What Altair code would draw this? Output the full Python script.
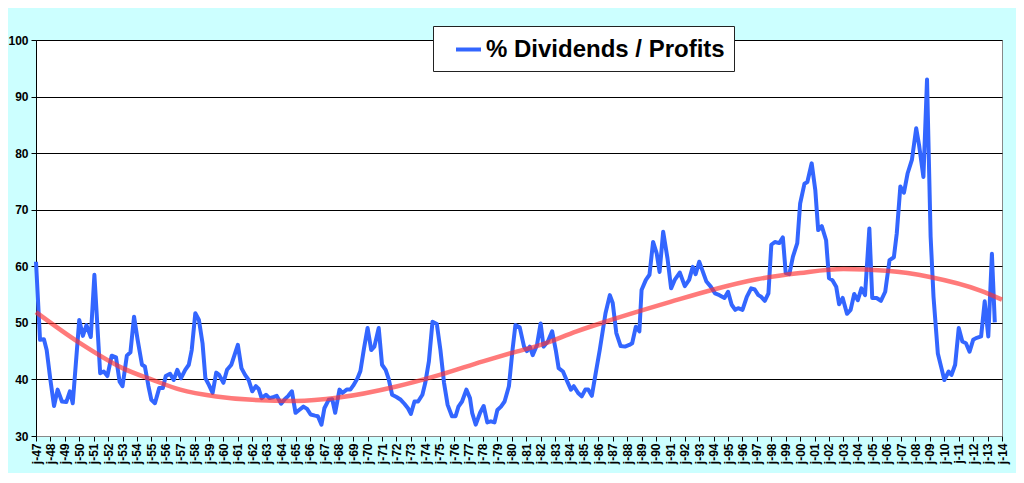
import altair as alt
import pandas as pd

SERIES = "% Dividends / Profits"

years = [
    1947.0, 1947.28, 1947.55, 1947.74, 1948.0, 1948.25, 1948.5, 1948.8, 1949.1, 1949.35,
    1949.55, 1950.0, 1950.25, 1950.5, 1950.8, 1951.05, 1951.45, 1951.7, 1951.95, 1952.25,
    1952.55, 1952.8, 1953.0, 1953.3, 1953.55, 1953.8, 1954.05, 1954.35, 1954.55, 1954.8,
    1955.0, 1955.25, 1955.55, 1955.8, 1956.0, 1956.3, 1956.55, 1956.8, 1957.05, 1957.35,
    1957.6, 1957.8, 1958.05, 1958.3, 1958.55, 1958.75, 1959.0, 1959.25, 1959.5, 1959.7,
    1960.0, 1960.25, 1960.55, 1961.0, 1961.25, 1961.5, 1961.75, 1962.0, 1962.25, 1962.45,
    1962.65, 1962.95, 1963.2, 1963.5, 1963.7, 1964.0, 1964.25, 1964.5, 1964.75, 1965.0,
    1965.25, 1965.55, 1965.8, 1966.05, 1966.35, 1966.55, 1966.8, 1967.0, 1967.3, 1967.55,
    1967.75, 1968.05, 1968.25, 1968.55, 1968.8, 1969.0, 1969.3, 1969.5, 1969.75, 1970.0,
    1970.25, 1970.47, 1970.77, 1971.0, 1971.25, 1971.45, 1971.7, 1972.0, 1972.3, 1972.55,
    1972.8, 1973.0, 1973.25, 1973.5, 1973.8, 1974.0, 1974.25, 1974.5, 1974.8, 1975.05,
    1975.3, 1975.55, 1975.85, 1976.1, 1976.3, 1976.55, 1976.85, 1977.1, 1977.25, 1977.5,
    1977.8, 1978.05, 1978.3, 1978.55, 1978.8, 1979.0, 1979.25, 1979.5, 1979.8, 1980.05,
    1980.25, 1980.55, 1980.85, 1981.05, 1981.25, 1981.45, 1981.75, 1982.0, 1982.2, 1982.5,
    1982.8, 1983.05, 1983.25, 1983.55, 1983.8, 1984.1, 1984.3, 1984.6, 1984.85, 1985.1,
    1985.3, 1985.55, 1985.8, 1986.1, 1986.5, 1986.8, 1987.0, 1987.25, 1987.55, 1987.85,
    1988.15, 1988.35, 1988.6, 1988.85, 1989.0, 1989.3, 1989.55, 1989.8, 1990.05, 1990.25,
    1990.5, 1990.8, 1991.05, 1991.3, 1991.65, 1992.0, 1992.3, 1992.55, 1992.75, 1993.0,
    1993.2, 1993.5, 1993.8, 1994.1, 1994.4, 1994.75, 1995.0, 1995.25, 1995.5, 1995.7,
    1996.0, 1996.3, 1996.6, 1996.85, 1997.1, 1997.3, 1997.55, 1997.8, 1998.0, 1998.25,
    1998.55, 1998.8, 1999.0, 1999.25, 1999.5, 1999.8, 2000.0, 2000.3, 2000.5, 2000.8,
    2001.05, 2001.25, 2001.5, 2001.8, 2002.0, 2002.25, 2002.5, 2002.7, 2002.95, 2003.25,
    2003.5, 2003.75, 2004.0, 2004.25, 2004.5, 2004.8, 2005.0, 2005.3, 2005.6, 2005.9,
    2006.2, 2006.5, 2006.7, 2006.95, 2007.2, 2007.45, 2007.75, 2008.05, 2008.25, 2008.55,
    2008.8, 2009.05, 2009.25, 2009.55, 2009.8, 2010.0, 2010.3, 2010.5, 2010.75, 2011.0,
    2011.25, 2011.5, 2011.75, 2012.0, 2012.2, 2012.55, 2012.8, 2013.05, 2013.3, 2013.5,
]

ratio = [
    60.8, 47.0, 47.1, 45.2, 39.9, 35.3, 38.2, 36.1, 36.0, 37.9,
    35.8, 50.5, 47.7, 49.6, 47.5, 58.5, 41.1, 41.4, 40.6, 44.2,
    43.9, 39.6, 38.8, 44.2, 44.8, 51.1, 47.0, 42.6, 42.3, 38.8,
    36.4, 35.8, 38.5, 38.5, 40.6, 41.0, 39.9, 41.7, 40.2, 41.7,
    42.6, 45.2, 51.7, 50.5, 46.4, 40.2, 39.0, 37.6, 41.2, 40.8,
    39.4, 41.7, 42.6, 46.1, 42.0, 40.8, 39.9, 37.9, 38.8, 38.3,
    36.7, 37.3, 36.7, 36.9, 37.1, 35.7, 36.5, 37.1, 37.9, 34.1,
    34.6, 35.2, 34.8, 33.8, 33.6, 33.5, 32.0, 34.9, 36.4, 36.5,
    34.1, 38.2, 37.6, 38.2, 38.2, 38.9, 40.2, 41.5, 45.5, 49.1,
    45.2, 45.8, 49.1, 42.6, 41.7, 40.2, 37.3, 36.9, 36.4, 35.7,
    34.9, 33.9, 36.1, 36.1, 37.3, 39.4, 43.2, 50.2, 49.8, 45.2,
    39.4, 35.5, 33.5, 33.5, 35.2, 36.1, 38.2, 36.7, 34.1, 32.0,
    34.1, 35.3, 32.4, 32.6, 32.4, 34.6, 35.2, 36.1, 38.8, 45.2,
    49.6, 49.2, 45.8, 45.0, 45.8, 44.3, 46.1, 49.9, 45.8, 46.7,
    48.5, 45.2, 42.0, 41.4, 39.9, 38.2, 38.8, 37.6, 37.0, 38.2,
    38.2, 37.1, 40.8, 45.2, 51.7, 54.9, 53.5, 48.2, 45.9, 45.8,
    46.1, 46.4, 49.3, 48.5, 55.8, 57.6, 58.5, 64.3, 62.3, 59.0,
    66.1, 61.4, 56.1, 57.6, 58.9, 56.5, 57.6, 59.9, 58.6, 60.8,
    59.4, 57.3, 56.4, 55.2, 54.9, 54.4, 55.5, 53.2, 52.3, 52.6,
    52.3, 54.6, 56.1, 55.9, 54.9, 54.6, 53.9, 55.2, 63.8, 64.3,
    64.1, 65.1, 58.8, 58.6, 61.7, 64.1, 71.1, 74.6, 74.9, 78.2,
    73.5, 66.4, 67.1, 64.6, 57.9, 57.5, 56.4, 53.3, 54.4, 51.6,
    52.3, 55.1, 54.0, 56.1, 54.9, 66.7, 54.4, 54.4, 53.9, 55.5,
    61.1, 61.6, 65.8, 74.1, 73.0, 76.4, 78.8, 84.4, 81.4, 75.8,
    93.0, 65.2, 54.6, 44.6, 42.0, 39.9, 41.4, 40.8, 42.6, 49.1,
    46.7, 46.4, 44.9, 47.0, 47.3, 47.6, 53.8, 47.6, 62.2, 50.1,
]

trend_years = [1947, 1950, 1953, 1955, 1957, 1959.5, 1962, 1965, 1968, 1972, 1975, 1978,
               1980, 1982, 1984.5, 1986.5, 1991, 1994, 1997, 2000, 2003, 2006, 2009,
               2012.5, 2014]
trend_values = [51.9, 46.5, 42.0, 40.0, 38.2, 37.0, 36.4, 36.2, 36.8, 38.75, 40.8, 43.2,
                44.7, 46.1, 48.5, 50.2, 53.7, 55.9, 57.7, 58.8, 59.5, 59.2, 58.1,
                55.7, 54.1]

tick_years = list(range(1947, 2015))
y_ticks = [30, 40, 50, 60, 70, 80, 90, 100]

df = pd.DataFrame({"year": years, "value": ratio, "series": SERIES})
df_trend = pd.DataFrame({"year": trend_years, "value": trend_values})

x_scale = alt.Scale(domain=[1947, 2014], nice=False, zero=False)
y_scale = alt.Scale(domain=[30, 100], nice=False, zero=False)

x_axis = alt.Axis(
    title=None, values=tick_years, grid=False,
    labelExpr="'j-' + substring(toString(datum.value), 2, 4)",
    labelAngle=270, labelAlign="right", labelBaseline="middle",
    labelFontSize=12, labelFontWeight="bold", labelColor="black",
    labelPadding=2, labelOverlap=False, labelFlush=False, labelBound=False,
    labelSeparation=0,
    tickSize=5, tickColor="black", domainColor="#888888",
)
y_axis = alt.Axis(
    title=None, values=y_ticks, grid=True, gridColor="black", gridWidth=1,
    labelFontSize=12, labelFontWeight="bold", labelColor="black",
    labelPadding=3, tickSize=5, tickColor="black", domainColor="black",
)

blue = alt.Chart(df).mark_line(strokeWidth=4, strokeJoin="round").encode(
    x=alt.X("year:Q", scale=x_scale, axis=x_axis),
    y=alt.Y("value:Q", scale=y_scale, axis=y_axis),
    color=alt.Color(
        "series:N",
        scale=alt.Scale(domain=[SERIES], range=["#3366ff"]),
        legend=alt.Legend(
            title=None, orient="none", legendX=397, legendY=-14,
            fillColor="white", strokeColor="#222222", padding=9,
            symbolType="stroke", symbolSize=625, symbolStrokeWidth=4,
            symbolOffset=12, labelFontSize=24, labelFontWeight="bold",
            labelColor="black", labelOffset=3, labelLimit=500,
        ),
    ),
)

red = alt.Chart(df_trend).mark_line(
    color="#ff3333", strokeWidth=4.5, opacity=0.65, interpolate="monotone"
).encode(
    x=alt.X("year:Q", scale=x_scale, axis=x_axis),
    y=alt.Y("value:Q", scale=y_scale, axis=y_axis),
)

chart = alt.layer(blue, red).properties(
    width=966, height=396,
    padding={"left": 28, "top": 32, "right": 14, "bottom": 37},
    autosize=alt.AutoSizeParams(type="none"),
    background="#ccffff",
).configure(font="Liberation Sans").configure_axis(
    labelOverlap=False
).configure_view(
    fill="white", stroke="#888888", strokeWidth=1
)

chart.save("out.html", embed_options={"renderer": "svg", "actions": False})
